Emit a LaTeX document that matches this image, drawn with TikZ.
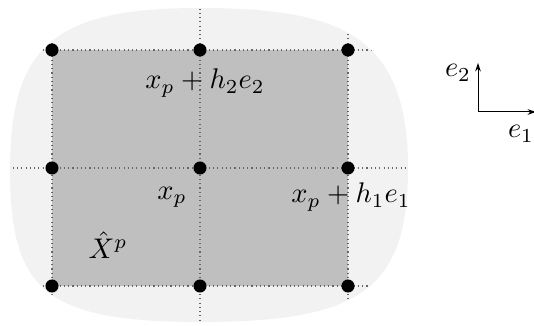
\documentclass[tikz,border=0pt]{standalone}
\usetikzlibrary{arrows.meta}

\tikzset{
  gridline/.style={gray!80!black, line width=0.4pt, dash pattern=on 0.4pt off 1.1pt},
  gridpt/.style={circle, fill=black, inner sep=0pt, minimum size=4.6pt},
  basis/.style={-{Stealth[length=3pt, width=2pt]}, line width=0.35pt}
}

\begin{document}
\begin{tikzpicture}[x=0.352pt, y=-0.352pt]
        \useasboundingbox (0, 0) rectangle (534, 326);

        % Domain around the patch
        \def\blob{(10, 170) .. controls (10, 45) and (55, 8) .. (200, 8)
          .. controls (340, 8) and (408, 35) .. (408, 168)
          .. controls (408, 290) and (360, 322) .. (200, 322)
          .. controls (45, 322) and (10, 290) .. (10, 170) -- cycle}
        \fill [black!5] \blob;

        % Patch \hat X^p
        \fill [black!25] (52, 50) rectangle (348, 286);

        % Grid lines, cut off at the border of the domain
        \begin{scope}
          \clip \blob;
          \foreach \gx in {52, 200, 348} {
            \draw [gridline] (\gx, 0) -- (\gx, 326);
          }
          \foreach \gy in {50, 168, 286} {
            \draw [gridline] (0, \gy) -- (420, \gy);
          }
        \end{scope}

        % Grid points
        \foreach \i/\gx in {0/52, 1/200, 2/348} {
          \foreach \j/\gy in {0/50, 1/168, 2/286} {
            \node [gridpt] (p-\i-\j) at (\gx, \gy) {};
          }
        }

        % Labels
        \node (top) at (205, 83) {$x_p + h_2 e_2$};
        \node (mid) at (172, 197) {$x_p$};
        \node (right) at (351, 197) {$x_p + h_1 e_1$};
        \node (patch) at (108, 245) {$\hat{X}^p$};

        % Basis vectors
        \coordinate (o) at (478, 112);
        \coordinate (up) at (478, 63);
        \coordinate (east) at (536, 112);
        \draw [basis] (o) -- (up);
        \draw [basis] (o) -- (east);
        \node (e2) at (458, 73) {$e_2$};
        \node (e1) at (521, 134) {$e_1$};

      \end{tikzpicture}
\end{document}
